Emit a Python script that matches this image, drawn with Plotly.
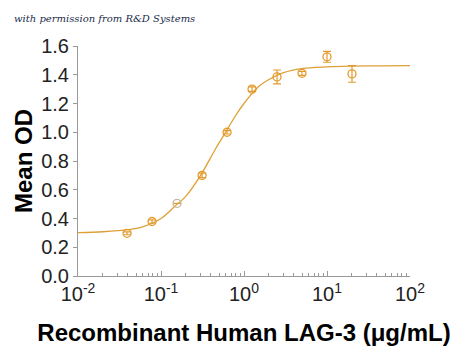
import plotly.graph_objects as go

# Measured data
conc = [0.039, 0.078, 0.156, 0.3125, 0.625, 1.25, 2.5, 5, 10, 20]
mean_od = [0.297, 0.379, 0.505, 0.700, 1.000, 1.300, 1.385, 1.410, 1.525, 1.406]
err = [0.010, 0.012, 0.0, 0.015, 0.012, 0.015, 0.048, 0.014, 0.038, 0.058]
marker_colors = ["#E39B2E"] * 10
marker_colors[2] = "#C9B9A0"

# Fitted curve
fit_x = [0.01, 0.02, 0.04, 0.06, 0.1, 0.15, 0.2, 0.3, 0.45, 0.6, 0.8, 1.0,
         1.5, 2, 3, 5, 10, 20, 50, 100]
fit_y = [0.302, 0.308, 0.322, 0.342, 0.400, 0.490, 0.556, 0.700, 0.880, 1.000,
         1.120, 1.200, 1.318, 1.367, 1.415, 1.443, 1.455, 1.460, 1.462, 1.463]

x_tickvals = [0.01, 0.1, 1, 10, 100]
x_ticktext = ["10<sup>-2</sup>", "10<sup>-1</sup>", "10<sup>0</sup>",
              "10<sup>1</sup>", "10<sup>2</sup>"]
x_minor_vals = [m * d for d in [0.01, 0.1, 1, 10] for m in [2, 3, 4, 5, 6, 7, 8, 9]]
y_tickvals = [0.0, 0.2, 0.4, 0.6, 0.8, 1.0, 1.2, 1.4, 1.6]

fig = go.Figure()
fig.add_trace(go.Scatter(
    x=fit_x, y=fit_y, mode="lines",
    line=dict(color="#DDA036", width=1.3, shape="spline", smoothing=1.0),
    hoverinfo="skip", showlegend=False))
fig.add_trace(go.Scatter(
    x=conc, y=mean_od, mode="markers",
    marker=dict(symbol="circle-open", size=8, color=marker_colors,
                line=dict(width=1.3)),
    error_y=dict(type="data", array=err, visible=True, color="#E39B2E",
                 thickness=1.2, width=4),
    showlegend=False))

axis_font = dict(family="Liberation Sans, Arial, sans-serif", size=20, color="#222222")
title_font = dict(family="Liberation Sans, Arial, sans-serif", size=24, color="#000000")

fig.update_layout(
    width=450, height=354,
    margin=dict(l=78, r=40, t=46, b=75),
    paper_bgcolor="white", plot_bgcolor="white",
    xaxis=dict(
        type="log", range=[-2, 2],
        tickvals=x_tickvals, ticktext=x_ticktext,
        ticks="inside", ticklen=5, tickcolor="#999999",
        minor=dict(tickmode="array", tickvals=x_minor_vals, ticks="inside",
                   ticklen=3, tickcolor="#999999", showgrid=False),
        showline=True, linecolor="#999999", linewidth=1,
        showgrid=False, zeroline=False,
        tickfont=axis_font,
        title=dict(text="<b>Recombinant Human LAG-3 (μg/mL)</b>", font=title_font, standoff=20),
    ),
    yaxis=dict(
        range=[0, 1.6], tickvals=y_tickvals, tickformat=".1f",
        ticks="outside", ticklen=4, tickcolor="#999999",
        showline=True, linecolor="#999999", linewidth=1,
        showgrid=False, zeroline=False,
        tickfont=axis_font,
        title=dict(text="<b>Mean OD</b>", font=title_font, standoff=1),
    ),
    annotations=[dict(
        text="<i>with permission from R&amp;D Systems</i>",
        xref="paper", yref="paper", x=-0.2, y=1.0, xanchor="left", yanchor="bottom",
        yshift=20, showarrow=False,
        font=dict(family="DejaVu Serif, serif", size=10, color="#1a2a4a"))],
)

fig.write_html("out.html")
